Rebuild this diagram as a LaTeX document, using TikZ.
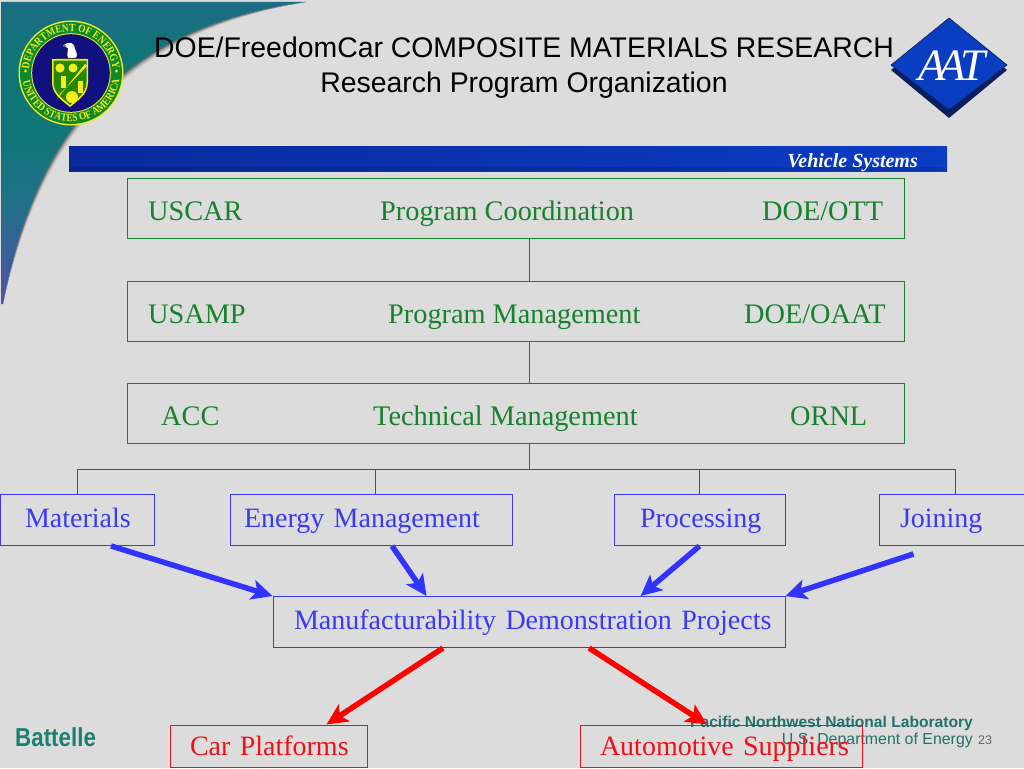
\documentclass[tikz,border=0pt]{standalone}
\usepackage{fontspec}
\setmainfont{Liberation Serif}
\setsansfont{Liberation Sans}
\newfontfamily\batfont[FakeStretch=0.86]{Liberation Sans}
\newfontfamily\sealfont[FakeStretch=0.85]{Liberation Serif}
\usetikzlibrary{arrows.meta,calc,decorations.text,shadings}
\definecolor{bgc}{HTML}{DCDCDC}
\definecolor{grn}{HTML}{17812C}
\definecolor{blu}{HTML}{3A3AF5}
\definecolor{bluarrow}{HTML}{3333FF}
\definecolor{rd}{HTML}{F01018}
\definecolor{tealc}{HTML}{24706C}
\definecolor{battc}{HTML}{1B7F74}
\definecolor{sealgreen}{HTML}{0F8A2A}
\definecolor{sealy}{HTML}{F2EC20}
\definecolor{navy}{HTML}{10107F}
\definecolor{swa}{HTML}{1E6C84}
\definecolor{swb}{HTML}{0E7676}
\definecolor{swc}{HTML}{1F7088}
\definecolor{swd}{HTML}{5050A8}
\definecolor{bna}{HTML}{0A2A9C}
\definecolor{bnb}{HTML}{0A3CC4}
\definecolor{dmd}{HTML}{0A3EC0}
\definecolor{dmds}{HTML}{0B1F5C}
\tikzset{
  gbox/.style={draw=grn,line width=1.15pt,minimum width=777pt,minimum height=60pt,inner sep=0pt},
  txt/.style={inner sep=0pt,anchor=base west,font=\fontsize{28.3}{28.3}\selectfont},
  gtxt/.style={txt,text=grn},
  bbox/.style={draw=blu,line width=0.9pt,inner sep=0pt,text=blu,minimum height=51pt,align=left,
     text height=21pt,text depth=6pt,font=\fontsize{28}{28}\selectfont},
  rbox/.style={draw=rd,line width=1pt,inner sep=0pt,text=rd,minimum height=42pt,align=left,
     text height=24pt,text depth=6pt,font=\fontsize{28}{28}\selectfont},
  link/.style={draw=grn,line width=1pt},
  blink/.style={draw=blu,line width=1pt},
  barrow/.style={draw=bluarrow,line width=5.5pt,-{Stealth[length=21pt,width=20pt,inset=5pt]}},
  rarrow/.style={draw=red,line width=5.5pt,-{Stealth[length=21pt,width=20pt,inset=5pt]}},
  ttl/.style={inner sep=0pt,anchor=base,font=\sffamily\fontsize{28.4}{28.4}\selectfont,text=black},
}
\begin{document}
\begin{tikzpicture}[x=1pt,y=-1pt]
\useasboundingbox (0,0) rectangle (1024,768);
\fill[bgc] (0,0) rectangle (1024,768);
% swoosh shadow: tapering crescent
\foreach \s/\o in {5/0.10,3.5/0.14,2.2/0.2,1/0.3}{
  \fill[black,opacity=\o] (306,2) .. controls (140,25) and (40,110) .. (3,304)
     .. controls ($(40,110)+(\s,\s)$) and ($(140,25)+(\s,\s)$) .. (306,2) -- cycle;
}
% swoosh
\begin{scope}
\clip (1,2) -- (306,2) .. controls (140,25) and (40,110) .. (3,304) -- (1,304) -- cycle;
\shade[top color=swa,bottom color=swb] (0,0) rectangle (310,60);
\fill[swb] (0,60) rectangle (310,130);
\shade[top color=swb,bottom color=swc] (0,130) rectangle (310,200);
\shade[top color=swc,bottom color=swd] (0,200) rectangle (310,305);
\end{scope}
% seal
\begin{scope}[shift={(71,73)},y=1pt]
\fill[sealy] (0,0) circle (52.5);
\fill[sealgreen] (0,0) circle (51);
\fill[sealy] (0,0) circle (39.8);
\fill[navy] (0,0) circle (38.8);
\path[postaction={decorate},decoration={text along path,text align=center,
   text={|\sealfont\bfseries\fontsize{11}{11}\selectfont\color{sealy}|DEPARTMENT OF ENERGY}}]
   (-42,-4) arc[start angle=185,end angle=-5,radius=42];
\path[postaction={decorate},decoration={text along path,text align=center,
   text={|\sealfont\bfseries\fontsize{11}{11}\selectfont\color{sealy}|UNITED STATES OF AMERICA}}]
   (-49,2) arc[start angle=178,end angle=365,radius=49];
\fill[sealy] (-45.5,2) circle (1.6) (45.5,2) circle (1.6);
% shield
\path[fill=sealy] (-19,14) -- (17,14) -- (17,-9) .. controls (17,-22) and (6,-28) .. (-1,-34) .. controls (-8,-28) and (-19,-22) .. (-19,-9) -- cycle;
\path[fill=green!45!black!85!yellow] (-17.5,12.5) -- (15.5,12.5) -- (15.5,-9) .. controls (15.5,-21) and (5,-26) .. (-1,-32) .. controls (-7,-26) and (-17.5,-21) .. (-17.5,-9) -- cycle;
\fill[sealy] (-11,5) circle (4.6) (2,5) circle (4.5);
\fill[sealy] (-10,-15) rectangle (-5,-3);
\fill[sealy] (7,-20) rectangle (12,-8);
\fill[sealy] (1,-24) circle (6);
\fill[sealy] (-14,-26) -- (14,9) -- (16,7) -- (-11,-21) -- cycle;
% eagle
\fill[white] (-8,27) .. controls (-2,33) and (4,30) .. (4,24) .. controls (6,20) and (7,16) .. (4,15) -- (-3,15) .. controls (-5,20) and (-2,22) .. (-3,25) -- cycle;
\fill[black] (-6,27) circle (0.8);
\fill[black!80] (-15,14.2) rectangle (15,15.4);
\end{scope}
% banner
\shade[left color=bna,right color=bnb] (69,146) rectangle (947,171);
\fill[black,opacity=0.10] (69,167) rectangle (947,171);
\node[inner sep=0pt,anchor=base east,text=white] (vs) at (918,167) {\fontsize{20}{20}\selectfont\bfseries\itshape Vehicle Systems};
% AAT
\path[fill=dmds] (949,24) -- (1007,70) -- (949,118) -- (891,70) -- cycle;
\path[fill=dmd,draw=dmds,line width=.6pt] (949,18) -- (1007,65) -- (949,110) -- (891,65) -- cycle;
\node[inner sep=0pt,anchor=base,text=white] (aat) at (952,81) {\fontsize{45}{45}\selectfont\itshape A\kern-8pt A\kern-5pt T};
% titles
\node[ttl] (t1) at (524,58) {DOE/FreedomCar COMPOSITE MATERIALS RESEARCH};
\node[ttl] (t2) at (524,92) {Research Program Organization};
% footer logos
\node[inner sep=0pt,anchor=base west,text=battc] (bat) at (15,746.5) {\batfont\bfseries\fontsize{26}{26}\selectfont Battelle};
\node[inner sep=0pt,anchor=base east,text=tealc] (pnl) at (973,727) {\sffamily\bfseries\fontsize{15.6}{15.6}\selectfont Pacific Northwest National Laboratory};
\node[inner sep=0pt,anchor=base east,text=tealc] (doe) at (973,744) {\sffamily\fontsize{15.9}{15.9}\selectfont U.S. Department of Energy};
\node[inner sep=0pt,anchor=base west,text=black!60] (pg) at (978,744) {\sffamily\fontsize{12.5}{12.5}\selectfont 23};
% green boxes
\node[gbox] (b1) at (516,208.5) {};
\node[gbox] (b2) at (516,311.5) {};
\node[gbox] (b3) at (516,413.5) {};
\node[gtxt] at (148,220) {USCAR};
\node[gtxt] at (380,220) {Program Coordination};
\node[gtxt] at (762,220) {DOE/OTT};
\node[gtxt] at (148,323) {USAMP};
\node[gtxt] at (388,323) {Program Management};
\node[gtxt] at (744,323) {DOE/OAAT};
\node[gtxt] at (161,425) {ACC};
\node[gtxt] at (373,425) {Technical Management};
\node[gtxt] at (790,425) {ORNL};
\draw[link] ($(b1.south)+(13.5,0)$) -- ($(b2.north)+(13.5,0)$);
\draw[link] ($(b2.south)+(13.5,0)$) -- ($(b3.north)+(13.5,0)$);
% blue boxes
\node[bbox,text width=154pt] (mat) at (77,520) {\hspace*{25pt}Materials};
\node[bbox,text width=282pt] (en) at (371,520) {\hspace*{14pt}Energy Management};
\node[bbox,text width=171pt] (pro) at (699.5,520) {\hspace*{26pt}Processing};
\node[bbox,text width=145pt] (joi) at (951.5,520) {\hspace*{21pt}Joining};
\node[bbox,text width=512pt] (man) at (529,622) {\hspace*{21pt}Manufacturability Demonstration Projects};
% bus
\coordinate (bus) at ($(b3.south)+(13.5,25.5)$);
\coordinate (busen) at ($(en.north)+(4.5,0)$);
\coordinate (busjoi) at ($(joi.north)+(4,0)$);
\draw[blink] (mat.north) |- (bus);
\draw[blink] (busen) |- (bus);
\draw[blink] (pro.north) |- (bus);
\draw[blink] (busjoi) |- (bus);
\draw[link] ($(b3.south)+(13.5,0)$) -- (bus);
% red boxes
\node[rbox,text width=197pt] (car) at (268.5,746) {\hspace*{20pt}Car Platforms};
\node[rbox,text width=282pt] (aut) at (721,746) {\hspace*{20pt}Automotive Suppliers};
% arrows
\draw[barrow] ($(mat.south)+(34,0)$) -- (man.north west);
\draw[barrow] ($(en.south)+(21,0)$) -- ($(man.north west)+(154,0)$);
\draw[barrow] (pro.south) -- ($(man.north west)+(368,0)$);
\draw[barrow] ($(joi.south)+(-38,8)$) -- (man.north east);
\draw[rarrow] ($(man.south)+(-86,0)$) -- ($(car.north)+(58,0)$);
\draw[rarrow] ($(man.south)+(60,0)$) -- ($(aut.north)+(-14,0)$);
\end{tikzpicture}
\end{document}
